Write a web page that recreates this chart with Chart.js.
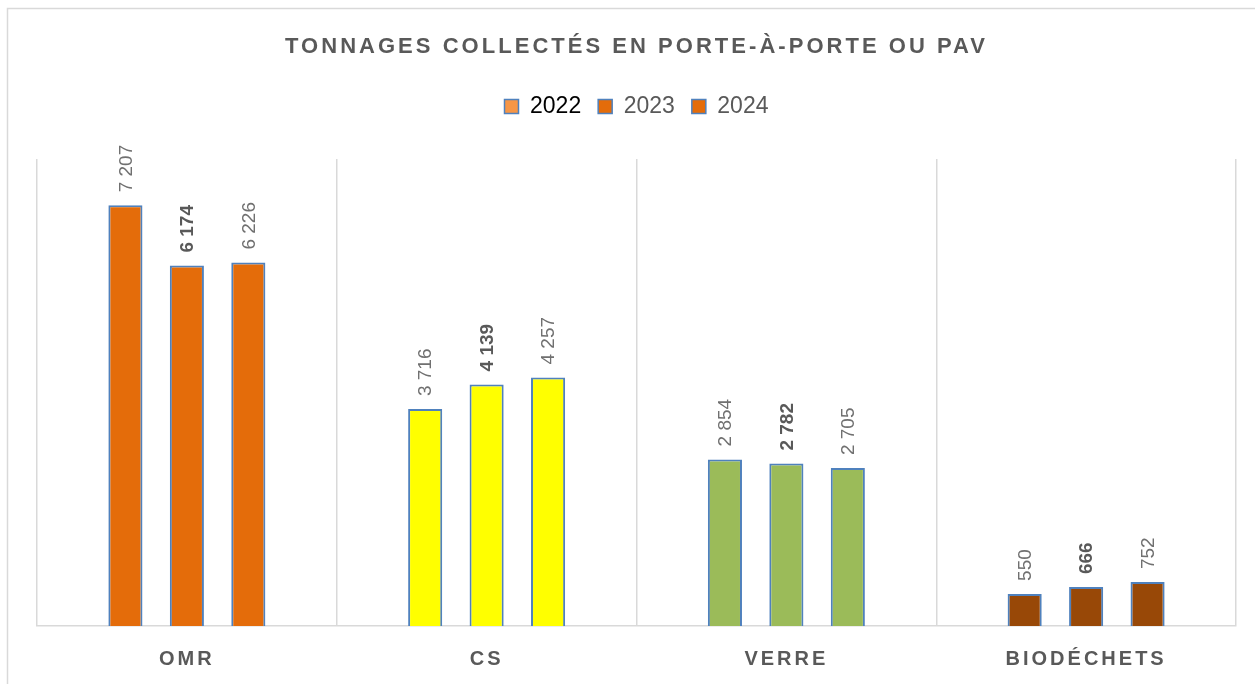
<!DOCTYPE html>
<html><head><meta charset="utf-8">
<script src="https://cdn.jsdelivr.net/npm/chart.js@4"></script>
<style>html,body{margin:0;padding:0;background:#fff}#wrap{width:1255px;height:684px}</style>
</head><body><div id="wrap"><canvas id="c" width="1255" height="684"></canvas></div>
<script>
const chartTitle = 'TONNAGES COLLECTÉS EN PORTE-À-PORTE OU PAV';
const categories = ['OMR', 'CS', 'VERRE', 'BIODÉCHETS'];
const years = ['2022', '2023', '2024'];
const values2022 = [7207, 3716, 2854, 550];
const values2023 = [6174, 4139, 2782, 666];
const values2024 = [6226, 4257, 2705, 752];
const categoryColors = ['#E46C0A', '#FFFF00', '#9BBB59', '#984807'];
const legendColors = ['#F79646', '#E46C0A', '#E46C0A'];
const legendTextColors = ['#000000', '#595959', '#595959'];
const yMax = 8000;

const FONT = '"Liberation Sans", Arial, sans-serif';
const seriesValues = [values2022, values2023, values2024];

function fmt(v) {
  return v >= 1000 ? Math.floor(v / 1000) + ' ' + String(v % 1000).padStart(3, '0') : String(v);
}

const resetSpacing = {
  id: 'resetSpacing',
  beforeDraw(chart) { chart.ctx.letterSpacing = '0px'; },
  beforeLayout(chart) {
    const lg = chart.legend;
    if (lg && !lg._sp) {
      const f = lg.fit;
      lg.fit = function () { f.apply(this, arguments); this.height += 31; };
      lg._sp = true;
    }
  }
};

const valueLabels = {
  id: 'valueLabels',
  afterDatasetsDraw(chart) {
    const ctx = chart.ctx;
    chart.data.datasets.forEach((ds, di) => {
      const meta = chart.getDatasetMeta(di);
      meta.data.forEach((bar, i) => {
        ctx.save();
        ctx.translate(bar.x, bar.y - 13);
        ctx.rotate(-Math.PI / 2);
        ctx.font = (di === 1 ? 'bold ' : '') + '19px ' + FONT;
        ctx.fillStyle = di === 1 ? '#595959' : '#707070';
        ctx.textAlign = 'left';
        ctx.textBaseline = 'middle';
        ctx.fillText(fmt(ds.data[i]), 0, 1);
        ctx.restore();
      });
    });
    // spacing for the x category labels drawn next (ticks z:1)
    ctx.letterSpacing = '3px';
  },
  afterDraw(chart) {
    const ctx = chart.ctx;
    ctx.save();
    ctx.letterSpacing = '0px';
    ctx.font = 'bold 22px ' + FONT;
    const w0 = ctx.measureText(chartTitle).width;
    const sp = (700 - w0) / (chartTitle.length - 1);
    ctx.letterSpacing = sp + 'px';
    ctx.fillStyle = '#595959';
    ctx.textAlign = 'left';
    ctx.textBaseline = 'alphabetic';
    ctx.fillText(chartTitle, 285, 53);
    ctx.letterSpacing = '0px';
    ctx.strokeStyle = '#D9D9D9';
    ctx.lineWidth = 1.5;
    ctx.beginPath();
    ctx.moveTo(7.5, 684); ctx.lineTo(7.5, 8.5); ctx.lineTo(1255, 8.5);
    ctx.stroke();
    ctx.restore();
    ctx.letterSpacing = '0px';
  }
};

new Chart(document.getElementById('c'), {
  type: 'bar',
  data: {
    labels: categories,
    datasets: years.map((y, i) => ({
      label: y,
      data: seriesValues[i],
      backgroundColor: categoryColors,
      borderColor: '#4F81BD',
      borderWidth: 2,
      categoryPercentage: 0.615,
      barPercentage: 0.555
    }))
  },
  options: {
    responsive: false,
    animation: false,
    layout: { padding: { top: 78, left: 37, right: 19, bottom: 13 } },
    plugins: {
      tooltip: { enabled: false },
      title: { display: false },
      legend: {
        position: 'top',
        labels: {
          boxWidth: 14,
          boxHeight: 14,
          padding: 17,
          font: { family: FONT, size: 23 },
          generateLabels() {
            return years.map((y, i) => ({
              text: y,
              fillStyle: legendColors[i],
              strokeStyle: '#4F81BD',
              lineWidth: 1.5,
              fontColor: legendTextColors[i],
              hidden: false,
              datasetIndex: i
            }));
          }
        }
      }
    },
    scales: {
      x: {
        afterFit(scale) { scale.height = 45; },
        grid: { display: true, offset: true, color: '#D9D9D9', lineWidth: 1.5, drawTicks: false },
        border: { display: true, color: '#D9D9D9', width: 1.5 },
        ticks: {
          z: 1,
          padding: 21,
          maxRotation: 0,
          autoSkip: false,
          color: '#595959',
          font: { family: FONT, size: 20, weight: 'bold' }
        }
      },
      y: {
        display: false,
        min: 0,
        max: yMax
      }
    }
  },
  plugins: [resetSpacing, valueLabels]
});
</script>
</body></html>
